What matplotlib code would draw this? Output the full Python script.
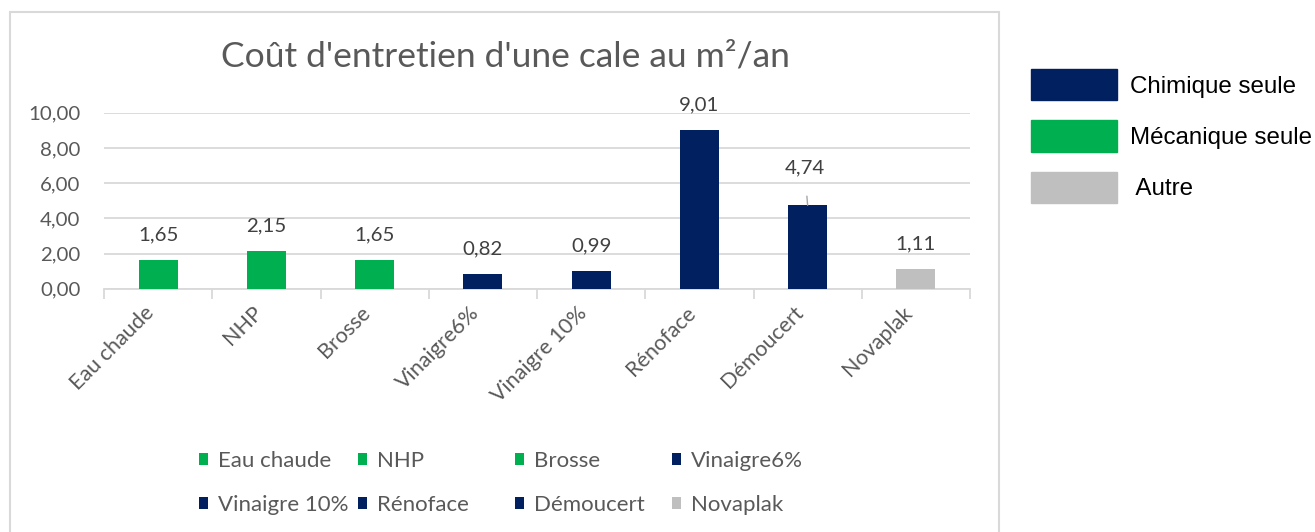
import matplotlib.pyplot as plt
from matplotlib.patches import Patch, Rectangle

# données
produits = ["Eau chaude", "NHP", "Brosse", "Vinaigre6%", "Vinaigre 10%",
            "Rénoface", "Démoucert", "Novaplak"]
couts = [1.65, 2.15, 1.65, 0.82, 0.99, 9.01, 4.74, 1.11]
etiquettes = ["1,65", "2,15", "1,65", "0,82", "0,99", "9,01", "4,74", "1,11"]
familles = ["meca", "meca", "meca", "chim", "chim", "chim", "chim", "autre"]
graduations = [0, 2, 4, 6, 8, 10]

couleurs = {"chim": "#002060", "meca": "#00B050", "autre": "#BFBFBF"}
noms_familles = {"chim": "Chimique seule", "meca": "Mécanique seule", "autre": " Autre"}

plt.rcParams['font.family'] = ['Lato', 'DejaVu Sans']

W, H = 1315, 532
fig = plt.figure(figsize=(W / 100, H / 100), dpi=100)

# cadre du graphique
fig.patches.append(Rectangle((10 / W, -0.05), 989 / W, 1 - 12 / H + 0.05,
                             transform=fig.transFigure, fill=False,
                             edgecolor="#d9d9d9", linewidth=1.5))

ax = fig.add_axes([104 / W, 1 - 288.7 / H, 866 / W, 176 / H])

x = list(range(len(produits)))
barres = ax.bar(x, couts, width=0.36,
                color=[couleurs[f] for f in familles], zorder=3)

ax.set_ylim(0, 10)
ax.set_xlim(-0.5, len(produits) - 0.5)
ax.set_yticks(graduations)
ax.set_yticklabels([f"{g},00" for g in graduations], fontsize=14.7, color="#595959")
ax.tick_params(axis="y", length=0, pad=17)
ax.grid(axis="y", color="#d9d9d9", linewidth=1.3, zorder=0)

ax.set_xticks(x)
ax.set_xticklabels(produits, rotation=45, ha="right", va="top",
                   fontsize=15.5, color="#595959")
ax.tick_params(axis="x", length=0, pad=10)
ax.set_xticks([i - 0.5 for i in range(len(produits) + 1)], minor=True)
ax.tick_params(axis="x", which="minor", length=7, color="#d9d9d9", width=1.3)

for s in ["top", "right", "left"]:
    ax.spines[s].set_visible(False)
ax.spines["bottom"].set_color("#d9d9d9")
ax.spines["bottom"].set_linewidth(1.3)

# étiquettes de données
for i, (v, t) in enumerate(zip(couts, etiquettes)):
    if produits[i] == "Démoucert":
        ax.annotate(t, xy=(i, v), xytext=(-3, 37), textcoords="offset pixels",
                    ha="center", va="center", fontsize=14.7, color="#404040",
                    arrowprops=dict(arrowstyle="-", color="#a6a6a6", lw=1,
                                    shrinkA=12, shrinkB=0))
    else:
        ax.annotate(t, xy=(i, v), xytext=(0, 25), textcoords="offset pixels",
                    ha="center", va="center", fontsize=14.7, color="#404040")

fig.text(505 / W, 1 - 57 / H, "Coût d'entretien d'une cale au m²/an",
         ha="center", va="center", fontsize=25.5, color="#595959")

# légende du bas : une colonne par légende, 2 lignes
poignees = list(barres.patches)
cols_x = [199, 358, 515, 672]
for c in range(4):
    fig.legend([poignees[c], poignees[c + 4]], [produits[c], produits[c + 4]],
               loc="upper left", bbox_to_anchor=(cols_x[c] / W, 1 - 451 / H),
               frameon=False, fontsize=16, labelcolor="#595959",
               handlelength=0.42, handleheight=0.42, handletextpad=0.45,
               labelspacing=1.07, borderpad=0, borderaxespad=0)

# légende des familles (à droite)
fam = ["chim", "meca", "autre"]
fig.legend([Patch(color=couleurs[f]) for f in fam], [noms_familles[f] for f in fam],
           loc="upper left", bbox_to_anchor=(1031 / W, 1 - 69 / H),
           frameon=False, handlelength=3.55, handleheight=1.62,
           handletextpad=0.55, labelspacing=0.83, borderpad=0, borderaxespad=0,
           prop={"family": "Liberation Sans", "size": 17.4})

fig.savefig("out.png", dpi=100)
